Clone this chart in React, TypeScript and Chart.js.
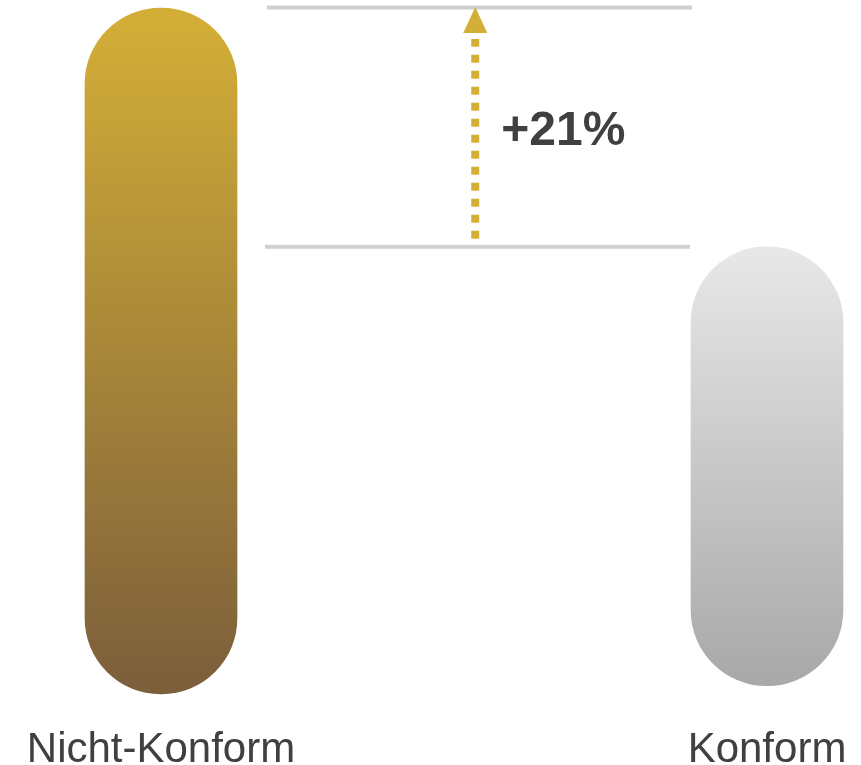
import React, { useEffect, useRef } from "react";
import { Chart, registerables } from "chart.js";

Chart.register(...registerables);

// ---- data ----
const categories: string[] = ["Nicht-Konform", "Konform"];
const barLow: number[] = [0, 1.2];
const barHigh: number[] = [100, 65.2];
const diffLabel: string = "+21%";

const FONT = '"Liberation Sans", Arial, Helvetica, sans-serif';
const GOLD = "#D4AF37";
const TEXT = "#404040";
const gradients: [string, string][] = [
  ["#D4AF37", "#7B5E3B"],
  ["#E8E8E8", "#A8A8A8"],
];
const BAR_W = 152;

// category labels under the bars, positioned by the x scale
const categoryLabelPlugin = {
  id: "categoryLabels",
  afterDraw(chart: any) {
    const { ctx, scales, chartArea } = chart;
    const xs = scales.x;
    ctx.save();
    ctx.font = `42px ${FONT}`;
    ctx.fillStyle = TEXT;
    ctx.textAlign = "center";
    ctx.textBaseline = "alphabetic";
    categories.forEach((label, i) => {
      ctx.fillText(label, xs.getPixelForValue(i), chartArea.bottom + 68);
    });
    ctx.restore();
  },
};

const annotationPlugin = {
  id: "diffAnnotation",
  afterDatasetsDraw(chart: any) {
    const { ctx, scales } = chart;
    const xs = scales.x;
    const ys = scales.y;
    const x0 = xs.getPixelForValue(0) + BAR_W / 2 + 30;
    const x1 = xs.getPixelForValue(1) - BAR_W / 2 + 1;
    const yTop = ys.getPixelForValue(barHigh[0]);
    const yLow = ys.getPixelForValue(barHigh[1]);
    ctx.save();
    // reference lines
    ctx.strokeStyle = "#D0D0D0";
    ctx.lineWidth = 4;
    ctx.beginPath();
    ctx.moveTo(x0, yTop - 0.5);
    ctx.lineTo(x1, yTop - 0.5);
    ctx.moveTo(x0 - 2, yLow);
    ctx.lineTo(x1 - 2, yLow);
    ctx.stroke();
    // dotted arrow
    const ax = x0 + 0.49 * (x1 - x0);
    ctx.strokeStyle = GOLD;
    ctx.lineWidth = 8;
    ctx.setLineDash([8, 8]);
    ctx.lineCap = "butt";
    ctx.beginPath();
    ctx.moveTo(ax, yLow - 8);
    ctx.lineTo(ax, yTop + 31);
    ctx.stroke();
    ctx.setLineDash([]);
    ctx.fillStyle = GOLD;
    ctx.beginPath();
    ctx.moveTo(ax, yTop - 1);
    ctx.lineTo(ax + 12, yTop + 25);
    ctx.lineTo(ax - 12, yTop + 25);
    ctx.closePath();
    ctx.fill();
    // label
    const fs = 48;
    ctx.font = `bold ${fs}px ${FONT}`;
    ctx.fillStyle = TEXT;
    ctx.textAlign = "left";
    ctx.textBaseline = "alphabetic";
    ctx.fillText(diffLabel, ax + 26, (yTop + yLow) / 2 + 0.36 * fs);
    ctx.restore();
  },
};

export default function App() {
  const ref = useRef<HTMLCanvasElement | null>(null);

  useEffect(() => {
    if (!ref.current) return;
    const data = categories.map((_, i) => [barLow[i], barHigh[i]]);
    const chart = new Chart(ref.current, {
      type: "bar",
      data: {
        labels: categories,
        datasets: [
          {
            data: data as any,
            barThickness: BAR_W,
            borderRadius: 500,
            borderSkipped: false,
            borderWidth: 0,
            clip: false as any,
            backgroundColor: (c: any) => {
              const chart = c.chart;
              const i = c.dataIndex;
              const ys = chart.scales && chart.scales.y;
              if (!chart.chartArea || !ys || i === undefined) return gradients[0][0];
              const top = ys.getPixelForValue(barHigh[i]);
              const bot = ys.getPixelForValue(barLow[i]);
              const g = chart.ctx.createLinearGradient(0, top, 0, bot);
              g.addColorStop(0, gradients[i][0]);
              g.addColorStop(1, gradients[i][1]);
              return g;
            },
          },
        ],
      },
      options: {
        responsive: false,
        animation: false,
        layout: { padding: { top: 8, left: 161, right: 94, bottom: 0 } },
        plugins: { legend: { display: false }, tooltip: { enabled: false } },
        scales: {
          x: {
            type: "category",
            offset: false,
            grid: { display: false, offset: false },
            border: { display: false },
            afterFit: (scale: any) => {
              scale.paddingLeft = 0;
              scale.paddingRight = 0;
              scale.paddingTop = 0;
              scale.paddingBottom = 0;
              scale.height = 71;
            },
            ticks: { display: false },
          },
          y: {
            display: false,
            min: 0,
            max: 100,
          },
        },
      },
      plugins: [annotationPlugin, categoryLabelPlugin],
    });
    return () => chart.destroy();
  }, []);

  return (
    <div style={{ position: "fixed", left: 0, top: 0, width: 861, height: 765, background: "#fff" }}>
      <canvas ref={ref} width={861} height={765} style={{ display: "block" }} />
    </div>
  );
}
